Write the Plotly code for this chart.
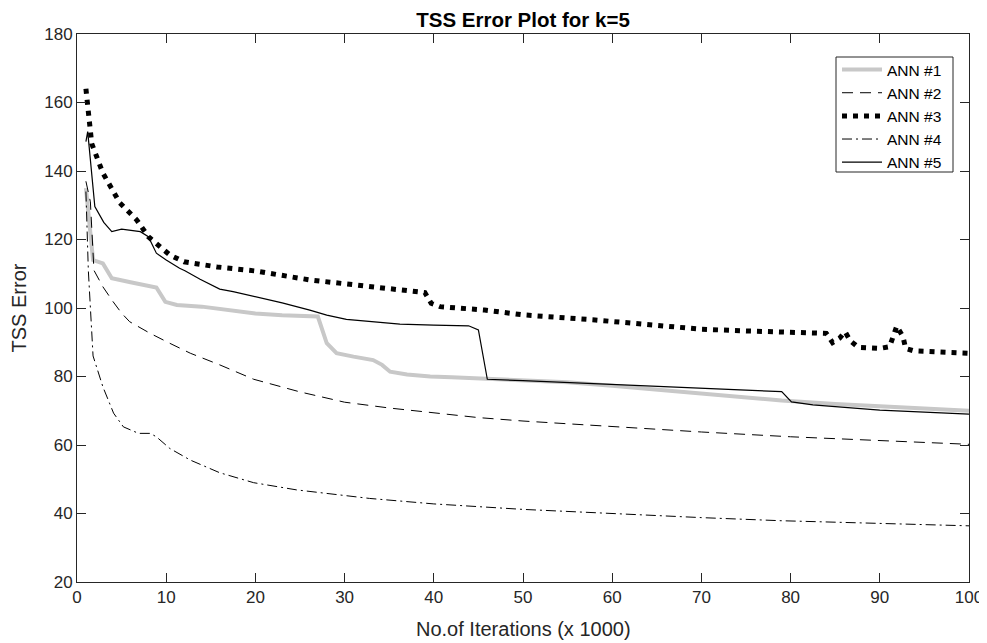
import plotly.graph_objects as go

# ---- data (x in thousands of iterations) ----
ann1_x = [1, 1.8, 2.9, 3.9, 6, 8.9, 9.9, 11.2, 14, 17.5, 20, 23, 27, 28, 29.1, 31, 33.2, 34.2, 35.1, 37, 39.6, 42, 47, 55, 60, 65, 70, 75, 79, 85, 90, 95, 100]
ann1_y = [135, 114, 113, 108.7, 107.5, 106, 101.8, 100.9, 100.4, 99.4, 98.4, 97.9, 97.5, 89.7, 86.8, 85.8, 84.8, 83.4, 81.4, 80.6, 80.0, 79.8, 79.2, 78.3, 77.3, 76.2, 75.0, 74.0, 73.0, 72.0, 71.3, 70.7, 70.0]

ann2_x = [1, 1.5, 1.9, 2.9, 4, 5, 5.9, 8.2, 10.4, 12.7, 16, 19.8, 25, 30, 35, 40, 45, 50, 60, 70, 80, 90, 100]
ann2_y = [137, 131, 111, 106.2, 102, 98.5, 96, 92.6, 89.7, 86.8, 83.4, 79.2, 75.5, 72.5, 70.8, 69.3, 68, 67, 65.3, 63.8, 62.4, 61.3, 60.2]

ann3_x = [1, 1.3, 1.65, 2.9, 4.8, 6.7, 8, 10.4, 12, 15.7, 20, 26.1, 30, 35, 38.1, 39, 39.7, 40.7, 45.7, 50, 58.1, 65, 70, 75, 78.8, 84, 84.7, 85.5, 86.1, 86.7, 87.6, 90, 91.1, 91.5, 91.9, 92.6, 92.9, 93.8, 100]
ann3_y = [164, 155, 148, 139.4, 130.7, 125.7, 120.8, 115.5, 113.5, 112, 110.8, 108.2, 107, 105.8, 104.8, 104.5, 101.4, 100.4, 99.4, 98, 96.5, 94.8, 93.8, 93.3, 92.9, 92.6, 89.9, 91.2, 93.1, 90.4, 88.5, 88.2, 88.7, 91.6, 94.7, 91.6, 88.2, 87.5, 86.8]

ann4_x = [1, 1.27, 1.8, 2.9, 4.1, 5.2, 6.9, 8.2, 8.9, 10.4, 12.7, 16, 19.8, 24.6, 32.8, 40, 50, 60, 70, 78.8, 90, 100]
ann4_y = [134, 111, 86, 77, 69.3, 65.3, 63.4, 63.4, 62.4, 59, 55.6, 51.9, 49, 46.9, 44.4, 42.8, 41.2, 39.9, 38.8, 37.9, 37.2, 36.4]

ann5_x = [1, 1.2, 2, 3, 3.9, 5, 7.1, 8, 8.9, 10, 11.5, 12.1, 13.8, 16, 17.5, 20, 23, 26.1, 28, 30.2, 33, 36.2, 40, 43.9, 45, 46, 50, 58.6, 65, 70, 75, 79, 80.1, 82.5, 90, 100]
ann5_y = [148.6, 151.5, 129.6, 125, 122.3, 123, 122.3, 120.8, 116, 114, 111.6, 110.9, 108.4, 105.5, 104.8, 103.3, 101.5, 99.4, 97.9, 96.7, 96.0, 95.3, 95.0, 94.8, 93.6, 79.2, 78.8, 77.8, 77, 76.5, 76.0, 75.6, 72.6, 71.7, 70.2, 69.0]

x_ticks = [0, 10, 20, 30, 40, 50, 60, 70, 80, 90, 100]
y_ticks = [20, 40, 60, 80, 100, 120, 140, 160, 180]

FONT = "Liberation Sans, Arial, Helvetica, sans-serif"
AX = "#262626"

# page body has an 8px margin; figure sized so the plot area lands at x 77..969, y 34..582
W, H = 987, 643
ML, MR, MT, MB = 69, 26, 26, 69
PW = W - ML - MR   # plot width in px
PH = H - MT - MB   # plot height in px

def px_x(p):  # page-pixel x -> paper coordinate
    return (p - 8 - ML) / PW

def px_y(p):  # page-pixel y -> paper coordinate
    return (H - MB - (p - 8)) / PH

fig = go.Figure()
fig.add_trace(go.Scatter(x=ann1_x, y=ann1_y, mode="lines", name="ANN #1",
                         line=dict(color="#c8c8c8", width=4)))
fig.add_trace(go.Scatter(x=ann2_x, y=ann2_y, mode="lines", name="ANN #2",
                         line=dict(color="black", width=1, dash="11px,7px")))
fig.add_trace(go.Scatter(x=ann3_x, y=ann3_y, mode="lines", name="ANN #3",
                         line=dict(color="black", width=5, dash="5px,6px")))
fig.add_trace(go.Scatter(x=ann4_x, y=ann4_y, mode="lines", name="ANN #4",
                         line=dict(color="black", width=1, dash="10px,4px,2px,4px")))
fig.add_trace(go.Scatter(x=ann5_x, y=ann5_y, mode="lines", name="ANN #5",
                         line=dict(color="black", width=1.2)))

axis_common = dict(showgrid=False, zeroline=False, showline=True, linecolor=AX,
                   linewidth=1, mirror="allticks", ticks="inside", ticklen=9,
                   tickcolor=AX, tickwidth=1, ticklabeloverflow="allow",
                   automargin=False,
                   tickfont=dict(family=FONT, size=17, color=AX))

# legend frame (drawn as a shape so the padding matches)
fig.add_shape(type="rect", xref="paper", yref="paper",
              x0=px_x(836), x1=px_x(953), y0=px_y(172), y1=px_y(57),
              line=dict(color=AX, width=1), fillcolor="white", layer="below")

# x-axis label as an annotation placed below the tick labels
fig.add_annotation(text="No.of Iterations (x 1000)", xref="paper", yref="paper",
                   x=0.5, xanchor="center", y=px_y(629), yanchor="middle",
                   showarrow=False, font=dict(family=FONT, size=20, color=AX))

fig.update_layout(
    width=W, height=H,
    margin=dict(l=ML, r=MR, t=MT, b=MB, autoexpand=False),
    paper_bgcolor="white", plot_bgcolor="white",
    title=dict(text="<b>TSS Error Plot for k=5</b>",
               x=(ML + (W - MR)) / 2 / W, xanchor="center",
               y=1 - 11.5 / H, yanchor="middle",
               font=dict(family=FONT, size=20.5, color="black")),
    xaxis=dict(range=[0, 100], tickvals=x_ticks, **axis_common),
    yaxis=dict(range=[20, 180], tickvals=y_ticks,
               title=dict(text="TSS Error", standoff=12,
                          font=dict(family=FONT, size=20, color=AX)),
               **axis_common),
    legend=dict(x=px_x(837), xanchor="left", y=px_y(53), yanchor="top",
                bgcolor="rgba(0,0,0,0)", borderwidth=0,
                font=dict(family=FONT, size=15.5, color="black"),
                tracegroupgap=0, itemwidth=40),
    showlegend=True,
)

fig.write_html("out.html")
